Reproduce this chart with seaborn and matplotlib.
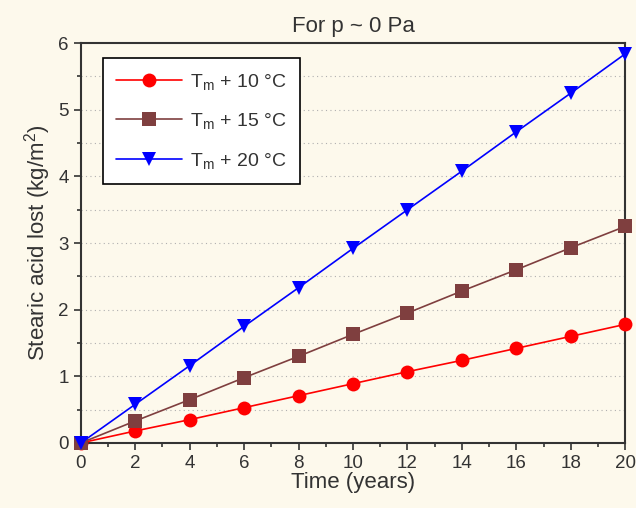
import matplotlib
matplotlib.use("Agg")
import matplotlib.pyplot as plt
import seaborn as sns
import pandas as pd
import numpy as np
from matplotlib.ticker import MultipleLocator

time_years = [0, 2, 4, 6, 8, 10, 12, 14, 16, 18, 20]
loss_10 = [0, 0.18, 0.35, 0.53, 0.71, 0.89, 1.07, 1.24, 1.42, 1.60, 1.78]
loss_15 = [0, 0.33, 0.65, 0.98, 1.30, 1.63, 1.95, 2.28, 2.60, 2.93, 3.25]
loss_20 = [0, 0.58, 1.16, 1.75, 2.33, 2.92, 3.50, 4.08, 4.67, 5.25, 5.84]
labels = [r"T$_\mathregular{m}$ + 10 °C", r"T$_\mathregular{m}$ + 15 °C", r"T$_\mathregular{m}$ + 20 °C"]
colors = ["#ff0000", "#7f3f3f", "#0000ff"]
markers = ["o", "s", "v"]

df = pd.concat([
    pd.DataFrame({"Time": time_years, "Loss": v, "Series": lab})
    for v, lab in zip([loss_10, loss_15, loss_20], labels)
])

bg = "#fdf9ec"
sns.set_style("ticks")
plt.rcParams["font.family"] = ["Liberation Sans", "DejaVu Sans"]
plt.rcParams["mathtext.default"] = "regular"

fig = plt.figure(figsize=(6.36, 5.08), dpi=100, facecolor=bg)
ax = fig.add_axes([0.127, 0.128, 0.856, 0.787])
ax.set_facecolor(bg)

for yv in np.arange(0.5, 6.0, 0.5):
    ax.axhline(yv, color="#b0b0b0", lw=0.8, ls=(0, (1, 3)), zorder=0)

sns.lineplot(data=df, x="Time", y="Loss", hue="Series", style="Series",
             palette=dict(zip(labels, colors)), markers=dict(zip(labels, markers)),
             dashes=False, markersize=10, markeredgecolor=bg, markeredgewidth=0,
             lw=1.2, ax=ax, clip_on=False, zorder=3)

ax.set_xlim(0, 20)
ax.set_ylim(0, 6)
ax.xaxis.set_major_locator(MultipleLocator(2))
ax.xaxis.set_minor_locator(MultipleLocator(1))
ax.yaxis.set_major_locator(MultipleLocator(1))
ax.yaxis.set_minor_locator(MultipleLocator(0.5))
ax.tick_params(which="major", direction="out", length=5, width=1.2, labelsize=13.5, colors="#333333", labelcolor="#333333")
ax.tick_params(which="minor", direction="out", length=3, width=1.2, colors="#333333")
for s in ax.spines.values():
    s.set_linewidth(1.5)
    s.set_color("#333333")

ax.set_xlabel("Time (years)", fontsize=16, color="#333333", labelpad=0)
ax.set_ylabel(r"Stearic acid lost (kg/m$^2$)", fontsize=16, color="#333333", labelpad=4)
ax.set_title("For p ~ 0 Pa", fontsize=16, color="#333333", pad=8)

leg = ax.legend(loc="upper left", bbox_to_anchor=(0.04, 0.9625), fontsize=14, frameon=True,
                fancybox=False, edgecolor="black", facecolor="white", framealpha=1,
                handlelength=3.4, borderpad=0.7, labelspacing=1.0, handletextpad=0.4,
                borderaxespad=0)
leg.get_frame().set_linewidth(1.2)
for t in leg.get_texts():
    t.set_color("#333333")

fig.savefig("out.png", dpi=100, facecolor=bg)
